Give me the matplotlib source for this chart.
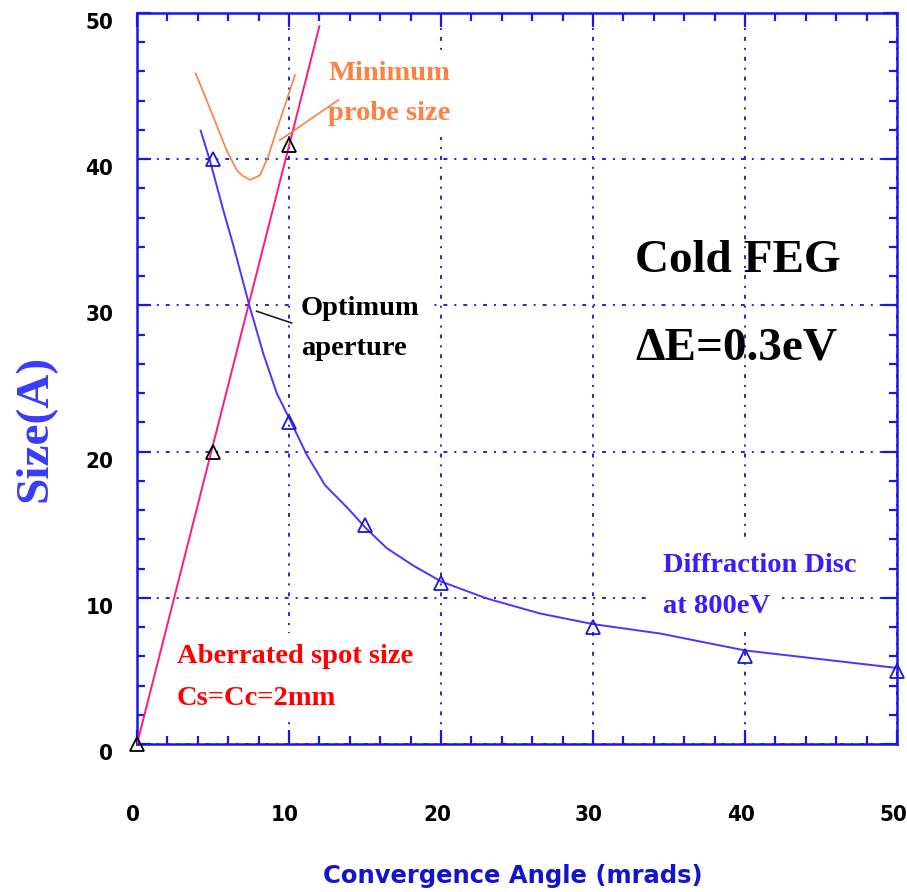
import matplotlib
matplotlib.use('Agg')
import matplotlib.pyplot as plt
import matplotlib.transforms as mtransforms
from matplotlib import font_manager as fm
from matplotlib.ticker import MultipleLocator

# ---------------- data ----------------
aberr_line_x = [0, 12]
aberr_line_y = [0, 49.1]
aberr_pts_x = [0, 5, 10]
aberr_pts_y = [0, 20, 41]

diff_curve_x = [4.19, 4.8, 5.68, 6.34, 7.39, 8.31, 9.19, 10.05, 11.16, 12.37, 13.8, 15.07,
                16.43, 18.18, 20.04, 23.0, 26.5, 30.0, 34.4, 40, 50]
diff_curve_y = [41.95, 39.9, 36.5, 34.1, 30.0, 26.7, 24.0, 22.2, 19.8, 17.7, 16.2, 14.75,
                13.4, 12.2, 11.1, 9.96, 8.93, 8.2, 7.56, 6.4, 5.2]
diff_pts_x = [5, 10, 15, 20, 30, 40, 50]
diff_pts_y = [40, 22, 15, 11, 8, 6, 5]

probe_x = [3.86, 5.02, 5.9, 6.56, 6.9, 7.43, 8.09, 8.64, 9.19, 9.85, 10.39]
probe_y = [45.87, 42.9, 40.6, 39.26, 38.9, 38.58, 38.9, 40.2, 42.0, 44.05, 45.76]

probe_leader_x = [9.4, 13.25]
probe_leader_y = [41.3, 44.05]
opt_leader_x = [7.87, 10.17]
opt_leader_y = [29.6, 28.8]

x_ticks = [0, 10, 20, 30, 40, 50]
x_tick_labels = ['0', '10', '20', '30', '40', '50']
y_ticks = [0, 10, 20, 30, 40, 50]
y_tick_labels = ['0', '10', '20', '30', '40', '50']

# ---------------- style ----------------
AX_BLUE = '#1818E6'
GRID_BLUE = '#2222E0'
PINK = '#FF1A80'
CURVE_BLUE = '#5032FF'
ORANGE = '#FF8040'
SERIF = ['Liberation Serif', 'DejaVu Serif']

# pick a condensed sans for tick labels if one is installed
_fonts = [(f.name, f.stretch) for f in fm.fontManager.ttflist]
_names = {n for n, s in _fonts}
if 'Liberation Sans Narrow' in _names:
    TICK_FAMILY, TICK_STRETCH, TICK_SIZE = ['Liberation Sans Narrow'], 'normal', 17
else:
    cond = [n for n, s in _fonts if str(s) in ('condensed', 'semi-condensed', '75', '87', '62')
            and n in ('DejaVu Sans', 'Noto Sans', 'Open Sans', 'Roboto', 'Roboto Condensed', 'Inter')]
    if cond:
        TICK_FAMILY, TICK_STRETCH, TICK_SIZE = [cond[0]], 'condensed', 16
    else:
        TICK_FAMILY, TICK_STRETCH, TICK_SIZE = ['Liberation Sans'], 'normal', 15.5

fig = plt.figure(figsize=(9.07, 8.92), dpi=100)
ax = fig.add_axes([137/907, 1-744/892, (897-137)/907, (744-13)/892])
ax.set_xlim(0, 50)
ax.set_ylim(0, 50)
ax.set_axisbelow(True)

for s in ax.spines.values():
    s.set_color(AX_BLUE)
    s.set_linewidth(1.8)

ax.set_xticks(x_ticks)
ax.set_yticks(y_ticks)
ax.xaxis.set_minor_locator(MultipleLocator(2))
ax.yaxis.set_minor_locator(MultipleLocator(2))
ax.tick_params(which='both', direction='in', top=True, right=True, color=AX_BLUE, width=1.6)
ax.tick_params(which='major', length=10)
ax.tick_params(which='minor', length=5.5)
ax.tick_params(axis='x', which='major', pad=44)
ax.tick_params(axis='y', which='major', pad=17)
ax.set_xticklabels(x_tick_labels, family=TICK_FAMILY, fontstretch=TICK_STRETCH,
                   fontweight='bold', fontsize=TICK_SIZE, color='black')
ax.set_yticklabels(y_tick_labels, family=TICK_FAMILY, fontstretch=TICK_STRETCH,
                   fontweight='bold', fontsize=TICK_SIZE, color='black', va='top')
_shift = mtransforms.ScaledTranslation(-4/100, 0, fig.dpi_scale_trans)
for lbl in ax.get_xticklabels():
    lbl.set_transform(lbl.get_transform() + _shift)

ax.grid(True, which='major', color=GRID_BLUE, linestyle=(0, (1, 3.6, 2, 3.6)), linewidth=1.4)

# ---------------- series ----------------
ax.plot(aberr_line_x, aberr_line_y, color=PINK, lw=1.4, zorder=3)
ax.plot(aberr_pts_x, aberr_pts_y, ls='none', marker='^', ms=10.5, mfc='none', mec='black',
        mew=1.3, zorder=4, clip_on=False)

ax.plot(diff_curve_x, diff_curve_y, color=CURVE_BLUE, lw=1.4, zorder=3)
ax.plot(diff_pts_x, diff_pts_y, ls='none', marker='^', ms=10.5, mfc='none', mec='#1A1AD8',
        mew=1.3, zorder=4, clip_on=False)

ax.plot(probe_x, probe_y, color=ORANGE, lw=1.2, zorder=3)
ax.plot(probe_leader_x, probe_leader_y, color=ORANGE, lw=1.2, zorder=3)
ax.plot(opt_leader_x, opt_leader_y, color='#202020', lw=1.2, zorder=3)

# ---------------- annotations ----------------
box = dict(boxstyle='square,pad=0.4', fc='white', ec='none')
def note(x, y, s, color, size=20.5, bbox=True):
    ax.text(x, y, s, color=color, fontsize=size, fontweight='bold', family=SERIF,
            ha='left', va='baseline', zorder=1.5, bbox=box if bbox else None)

note(12.57, 45.42, 'Minimum', ORANGE)
note(12.57, 42.68, 'probe size', ORANGE)
note(10.79, 29.34, 'Optimum', 'black')
note(10.79, 26.6, 'aperture', 'black')
note(32.76, 32.3, 'Cold FEG', 'black', size=34, bbox=False)
note(32.76, 26.33, '\u0394E=0.3eV', 'black', size=34, bbox=False)
note(34.6, 11.76, 'Diffraction Disc', '#3A1CFF')
note(34.6, 8.96, 'at 800eV', '#3A1CFF')
note(2.63, 5.54, 'Aberrated spot size', '#FF0000')
note(2.63, 2.67, 'Cs=Cc=2mm', '#FF0000')

fig.text(0.039, 1-428/892, 'Size(A)', rotation=90, ha='center', va='center',
         fontsize=34, fontweight='bold', family=SERIF, color='#3A3AFF')
fig.text(513/907, 1-876/892, 'Convergence Angle (mrads)', ha='center', va='center',
         fontsize=17.5, fontweight='bold', family=['DejaVu Sans'], color='#1414CC')

fig.savefig('out.png', dpi=100)
